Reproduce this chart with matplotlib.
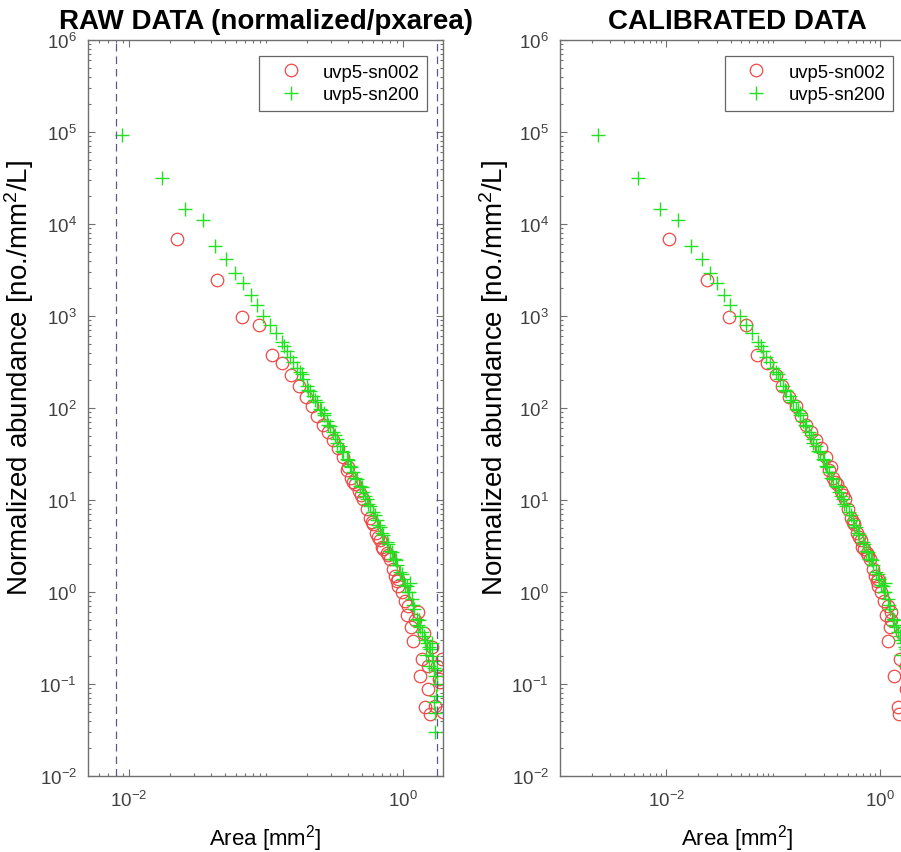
import matplotlib
matplotlib.use("Agg")
import matplotlib.pyplot as plt
from matplotlib.ticker import FixedLocator, LogLocator, LogFormatterMathtext, NullFormatter

plt.rcParams['font.family'] = ['Liberation Sans', 'DejaVu Sans']
plt.rcParams['mathtext.fontset'] = 'custom'
plt.rcParams['mathtext.rm'] = 'Liberation Sans'
plt.rcParams['mathtext.it'] = 'Liberation Sans:italic'
plt.rcParams['mathtext.bf'] = 'Liberation Sans:bold'
plt.rcParams['mathtext.default'] = 'regular'

# ---- data ----
# uvp5-sn002 : raw area [mm2], calibrated area [mm2], normalized abundance
area_raw_sn002 = [0.0223, 0.0442, 0.0664, 0.0889, 0.110, 0.130, 0.151, 0.174, 0.195,
                  0.215, 0.237, 0.259, 0.285, 0.310, 0.337, 0.366, 0.399,
                  0.4335, 0.4467, 0.4786, 0.5129, 0.5433, 0.5754, 0.6067, 0.638,
                  0.661, 0.698, 0.718, 0.759, 0.803, 0.841, 0.875, 0.925, 0.925,
                  0.977, 1.035, 1.096, 1.23, 1.294, 1.189, 1.368, 1.413, 1.33,
                  1.531, 1.449, 1.574, 1.714, 1.862, 1.914, 1.968, 1.778, 1.82,
                  1.622, 1.514,
                  0.389, 0.417, 0.4955, 0.5916, 0.679, 0.78, 0.9016, 1.072, 1.148]
area_cal_sn002 = [0.01053, 0.02409, 0.03853, 0.05523, 0.07113, 0.08833, 0.1057, 0.1219, 0.1406,
                  0.1629, 0.1811, 0.2023, 0.2249, 0.2512, 0.2792, 0.3105, 0.3467,
                  0.3837, 0.3982, 0.4326, 0.4699, 0.5037, 0.542, 0.5755, 0.6137,
                  0.6397, 0.6823, 0.708, 0.7552, 0.8091, 0.859, 0.8995, 0.9594, 0.9594,
                  1.028, 1.10, 1.179, 1.277, 1.27, 1.179, 1.543, 1.605, 1.362,
                  1.769, 1.467, 1.52, 2.033, 2.25, 2.323, 2.399, 2.129, 2.187,
                  1.896, 1.745,
                  0.3365, 0.3656, 0.4508, 0.5598, 0.6607, 0.7816, 0.9311, 1.148, 1.25]
abund_sn002 = [6870, 2480, 984, 798, 379, 308, 229, 172, 131,
               106, 82.4, 65.3, 54.5, 45.2, 36.5, 29.1, 22.6,
               15.6, 14.9, 12.6, 10.3, 7.98, 6.31, 5.48, 4.37,
               3.94, 3.06, 2.93, 2.63, 2.29, 1.78, 1.50, 1.38, 1.17,
               1.0, 0.805, 0.708, 0.50, 0.601, 0.296, 0.187, 0.355, 0.123,
               0.0883, 0.0557, 0.0472, 0.058, 0.104, 0.187, 0.0492, 0.158, 0.112,
               0.251, 0.158,
               21.4, 17.4, 11.2, 5.75, 3.63, 2.51, 1.32, 0.562, 0.417]

# uvp5-sn200
area_raw_sn200 = [0.00885, 0.0173, 0.0257, 0.0345, 0.0425, 0.0511, 0.0594, 0.0682,
                  0.0773, 0.0855, 0.0955, 0.107, 0.1175, 0.130, 0.136, 0.1416,
                  0.1496, 0.1585, 0.1675, 0.177, 0.187, 0.198, 0.2094, 0.2213,
                  0.2344, 0.2477, 0.263, 0.2773, 0.2931, 0.3097, 0.3273, 0.3467,
                  0.3673, 0.3882, 0.410, 0.4335, 0.459, 0.4853, 0.513, 0.543,
                  0.574, 0.6067, 0.6427, 0.6792, 0.7194, 0.7603, 0.8035, 0.849,
                  0.8995, 0.9506, 1.007, 1.064, 1.109, 1.156, 1.202, 1.259,
                  1.334, 1.413, 1.496, 1.585, 1.66, 1.714, 1.758, 1.738, 1.698,
                  1.714, 1.714, 1.778, 1.318, 1.479, 1.622, 1.549, 1.122, 0.891,
                  0.182, 0.204, 0.2265, 0.254, 0.2851, 0.3184, 0.3565, 0.398,
                  0.4467, 0.501, 0.5585, 0.6237, 0.6998, 0.7816, 0.871, 0.977,
                  1.086, 1.18, 1.294, 1.374, 1.452, 1.542, 1.633, 1.69,
                  0.263, 0.331, 0.417, 0.525, 0.661, 0.832, 1.035]
area_cal_sn200 = [0.002314, 0.005417, 0.008798, 0.01277, 0.01706, 0.02167, 0.02592, 0.02993,
                  0.0346, 0.0398, 0.04853, 0.05622, 0.0634, 0.07209, 0.07623, 0.08054,
                  0.08632, 0.0929, 0.09954, 0.1071, 0.1148, 0.1236, 0.1324, 0.1426,
                  0.1534, 0.1644, 0.1778, 0.1905, 0.2042, 0.2187, 0.2355, 0.2535,
                  0.2729, 0.2925, 0.3134, 0.3373, 0.3631, 0.389, 0.4169, 0.4488,
                  0.483, 0.5175, 0.5571, 0.5971, 0.6427, 0.6919, 0.7413, 0.798,
                  0.859, 0.9204, 0.9908, 1.061, 1.121, 1.179, 1.241, 1.318,
                  1.418, 1.528, 1.644, 1.769, 1.88, 1.96, 2.022, 1.997, 1.932,
                  1.96, 1.96, 2.051, 1.346, 1.588, 1.823, 1.716, 1.124, 0.8464,
                  0.1109, 0.1285, 0.1466, 0.1698, 0.1968, 0.227, 0.2624, 0.302,
                  0.35, 0.4055, 0.4656, 0.537, 0.6223, 0.7166, 0.8222, 0.9528,
                  1.091, 1.213, 1.365, 1.476, 1.581, 1.71, 1.841, 1.923,
                  0.1778, 0.2388, 0.3206, 0.4305, 0.578, 0.7762, 1.026]
abund_sn200 = [9.3e4, 3.2e4, 1.46e4, 1.11e4, 5.8e3, 4.2e3, 2.9e3, 2.3e3,
               1.7e3, 1.32e3, 1.0e3, 790, 646, 518, 468, 420,
               363, 314, 275, 244, 207, 175, 155, 136,
               115, 97.5, 84.1, 72.8, 63.1, 54.5, 46.0, 38.9,
               33.1, 27.9, 23.4, 19.95, 17.0, 14.3, 12.2, 10.26,
               8.71, 7.35, 6.10, 5.05, 4.17, 3.47, 2.82, 2.29,
               1.95, 1.64, 1.38, 1.17, 1.0, 0.84, 0.66, 0.51,
               0.417, 0.335, 0.282, 0.24, 0.178, 0.123, 0.10, 0.074, 0.063,
               0.049, 0.030, 0.141, 0.5, 0.209, 0.282, 0.158, 1.26, 2.24,
               234, 158, 123, 95.5, 64.6, 51.3, 33.9, 26.9,
               17.4, 13.8, 9.12, 6.92, 4.37, 3.31, 2.29, 1.58,
               1.0, 0.724, 0.437, 0.363, 0.302, 0.251, 0.204, 0.151,
               89, 41.7, 22.9, 11.0, 5.37, 2.69, 1.20]

# limits of the raw size range (dashed lines)
raw_limits = [0.0080, 1.76]

titles = ['RAW DATA (normalized/pxarea)', 'CALIBRATED DATA']
labels = ['uvp5-sn002', 'uvp5-sn200']

RED = '#ee4848'
GREEN = '#22e022'
GREY = '#707070'

fig = plt.figure(figsize=(9.01, 8.53), dpi=100)
ax1 = fig.add_axes([0.0977, 0.0891, 0.394, 0.8628])
ax2 = fig.add_axes([0.6215, 0.0891, 0.394, 0.8628])


def style_axes(ax, xlim, leg_anchor, ylab_x):
    ax.set_xscale('log')
    ax.set_yscale('log')
    ax.set_xlim(*xlim)
    ax.set_ylim(1e-2, 1e6)
    ax.xaxis.set_major_locator(FixedLocator([1e-2, 1e0]))
    ax.xaxis.set_major_formatter(LogFormatterMathtext())
    ax.xaxis.set_minor_locator(LogLocator(base=10, subs=range(1, 10), numticks=30))
    ax.xaxis.set_minor_formatter(NullFormatter())
    ax.yaxis.set_major_locator(FixedLocator([10.0 ** k for k in range(-2, 7)]))
    ax.yaxis.set_major_formatter(LogFormatterMathtext())
    ax.yaxis.set_minor_locator(LogLocator(base=10, subs=range(2, 10), numticks=30))
    ax.yaxis.set_minor_formatter(NullFormatter())
    ax.tick_params(which='both', direction='in', top=True, right=True, color=GREY,
                   labelcolor='#404040', labelsize=13.5, width=0.8)
    ax.tick_params(which='major', length=5)
    ax.tick_params(axis='x', which='major', pad=10)
    ax.tick_params(axis='y', which='major', pad=8)
    ax.tick_params(which='minor', length=2.5)
    for sp in ax.spines.values():
        sp.set_color(GREY)
        sp.set_linewidth(1.0)
    ax.set_xlabel('Area [mm$^2$]', fontsize=16, va='baseline')
    ax.xaxis.set_label_coords(0.5, -0.0924)
    ax.set_ylabel('Normalized abundance [no./mm$^2$/L]', fontsize=20)
    ax.yaxis.set_label_coords(ylab_x, 0.542)
    leg = ax.legend(loc='upper right', bbox_to_anchor=leg_anchor, borderaxespad=0,
                    fontsize=13.3, frameon=True, fancybox=False, handlelength=2.6,
                    handletextpad=0.45, borderpad=0.4, labelspacing=0.3)
    leg.get_frame().set_edgecolor('#404040')
    leg.get_frame().set_linewidth(0.9)


# left: raw data
ax1.plot(area_raw_sn002, abund_sn002, 'o', mfc='none', mec=RED, ms=9, mew=0.9, label=labels[0])
ax1.plot(area_raw_sn200, abund_sn200, '+', color=GREEN, ms=10, mew=1.0, label=labels[1])
for xv in raw_limits:
    ax1.axvline(xv, color='#5a5a8c', ls=(0, (6, 4)), lw=0.9)
ax1.set_title(titles[0], fontsize=20, fontweight='bold', pad=9)
style_axes(ax1, (0.00502, 1.96), (0.955, 0.978), -0.146)

# right: calibrated data
ax2.plot(area_cal_sn002, abund_sn002, 'o', mfc='none', mec=RED, ms=9, mew=0.9, label=labels[0])
ax2.plot(area_cal_sn200, abund_sn200, '+', color=GREEN, ms=10, mew=1.0, label=labels[1])
ax2.set_title(titles[1], fontsize=20, fontweight='bold', pad=9)
style_axes(ax2, (0.00101, 2.13), (0.938, 0.978), -0.138)

fig.savefig('out.png', dpi=100)
